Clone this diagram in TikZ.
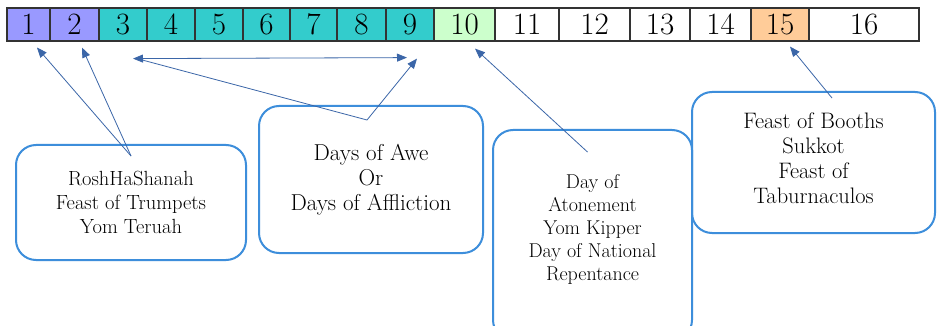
\documentclass[tikz,border=0pt]{standalone}
\usetikzlibrary{arrows.meta}
\definecolor{lilac}{HTML}{9999FF}
\definecolor{teal}{HTML}{33CCCC}
\definecolor{mint}{HTML}{CCFFCC}
\definecolor{peach}{HTML}{FFCC99}
\definecolor{linkblue}{HTML}{3B66A8}
\definecolor{boxblue}{HTML}{3D8EDB}
\tikzset{
  day/.style={draw=black!80, line width=1.2pt, minimum height=33pt, inner sep=0pt,
    font=\fontsize{31}{31}\selectfont},
  feast/.style={draw=boxblue, line width=2pt, rounded corners=20pt, align=center,
    inner sep=0pt},
  link/.style={linkblue, line width=0.8pt},
  tip/.style={-{Triangle[length=10pt,width=8pt]}}
}
\begin{document}
\begin{tikzpicture}[x=1pt,y=-1pt]
\clip (0,0) rectangle (937,326);
\fill[white] (0,0) rectangle (937,326);
% the sixteen days
\node[day, fill=lilac, minimum width=43pt] (c1) at (28.5,24.5) {1};
\node[day, fill=lilac, minimum width=49pt] (c2) at (74.5,24.5) {2};
\node[day, fill=teal, minimum width=48pt] (c3) at (123,24.5) {3};
\node[day, fill=teal, minimum width=48pt] (c4) at (171,24.5) {4};
\node[day, fill=teal, minimum width=48pt] (c5) at (219,24.5) {5};
\node[day, fill=teal, minimum width=47pt] (c6) at (266.5,24.5) {6};
\node[day, fill=teal, minimum width=47pt] (c7) at (313.5,24.5) {7};
\node[day, fill=teal, minimum width=49pt] (c8) at (361.5,24.5) {8};
\node[day, fill=teal, minimum width=48pt] (c9) at (410,24.5) {9};
\node[day, fill=mint, minimum width=61pt] (c10) at (464.5,24.5) {10};
\node[day, fill=white, minimum width=64pt] (c11) at (527,24.5) {11};
\node[day, fill=white, minimum width=71pt] (c12) at (594.5,24.5) {12};
\node[day, fill=white, minimum width=60pt] (c13) at (660,24.5) {13};
\node[day, fill=white, minimum width=61pt] (c14) at (720.5,24.5) {14};
\node[day, fill=peach, minimum width=58pt] (c15) at (780,24.5) {15};
\node[day, fill=white, minimum width=110pt] (c16) at (864,24.5) {16};
% the feasts
\node[feast, minimum width=230pt, minimum height=115pt, font=\fontsize{20.5}{24}\selectfont] (b1) at (131,202.5) {RoshHaShanah\\Feast of Trumpets\\Yom Teruah};
\node[feast, minimum width=224pt, minimum height=147pt, font=\fontsize{23}{25}\selectfont] (b2) at (371,179.5) {Days of Awe\\Or\\Days of Affliction};
\node[feast, minimum width=199pt, minimum height=210pt] (b3) at (592.5,235) {};
\node[font=\fontsize{20}{23}\selectfont, align=center] (t3) at (592.5,229) {Day of\\Atonement\\Yom Kipper\\Day of National\\Repentance};
\node[feast, minimum width=243pt, minimum height=141pt] (b4) at (813.5,162.5) {};
\node[font=\fontsize{22.4}{25}\selectfont, align=center] (t4) at (813.5,158) {Feast of Booths\\Sukkot\\Feast of\\Taburnaculos};
% connectors
\coordinate (j1) at ([yshift=-12pt]b1.north);
\coordinate (j2) at ([shift={(-4,15)}]b2.north);
\coordinate (j3) at ([shift={(-5,23)}]b3.north);
\coordinate (j4) at ([shift={(18.5,7)}]b4.north);
\draw[link, tip] (j1) -- ([shift={(8.5,6)}]c1.south);
\draw[link, tip] (j1) -- ([shift={(7.5,6)}]c2.south);
\draw[link, {Triangle[length=10pt,width=8pt]}-{Triangle[length=10pt,width=8pt]}] ([shift={(10,17)}]c3.south) -- ([shift={(-3,16)}]c9.south);
\draw[link] (j2) -- ([shift={(14,17)}]c3.south);
\draw[link, tip] (j2) -- ([shift={(7,17)}]c9.south);
\draw[link, tip] (j3) -- ([shift={(10.5,7)}]c10.south);
\draw[link, tip] (j4) -- ([shift={(10,5)}]c15.south);
\end{tikzpicture}
\end{document}
